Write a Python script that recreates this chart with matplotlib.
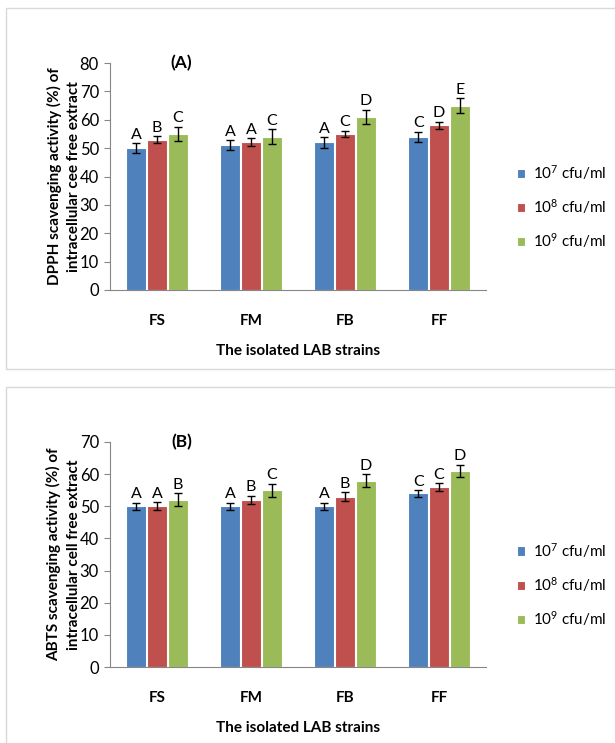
import numpy as np
import matplotlib
matplotlib.use('Agg')
import matplotlib.pyplot as plt
from matplotlib.patches import Rectangle

plt.rcParams['font.family'] = ['Lato', 'DejaVu Sans']
plt.rcParams['mathtext.fontset'] = 'custom'
plt.rcParams['mathtext.rm'] = 'Lato'
plt.rcParams['mathtext.default'] = 'regular'

strains = ['FS', 'FM', 'FB', 'FF']
doses = ['10$^{7}$ cfu/ml', '10$^{8}$ cfu/ml', '10$^{9}$ cfu/ml']
colors = ['#4F81BD', '#C0504D', '#9BBB59']

# (A) DPPH
dpph_7 = [50, 51, 52, 54]
dpph_8 = [53, 52, 55, 58]
dpph_9 = [55, 54, 61, 65]
dpph_err_7 = [1.8, 1.8, 1.8, 1.8]
dpph_err_8 = [1.3, 1.4, 1.2, 1.3]
dpph_err_9 = [2.6, 2.6, 2.5, 2.6]
dpph_let_7 = ['A', 'A', 'A', 'C']
dpph_let_8 = ['B', 'A', 'C', 'D']
dpph_let_9 = ['C', 'C', 'D', 'E']

# (B) ABTS
abts_7 = [50, 50, 50, 54]
abts_8 = [50, 52, 53, 56]
abts_9 = [52, 55, 58, 61]
abts_err_7 = [1.0, 1.0, 1.0, 1.0]
abts_err_8 = [1.3, 1.2, 1.3, 1.2]
abts_err_9 = [2.0, 2.0, 2.0, 1.9]
abts_let_7 = ['A', 'A', 'A', 'C']
abts_let_8 = ['A', 'B', 'B', 'C']
abts_let_9 = ['B', 'C', 'D', 'D']

W, H = 615, 743
fig = plt.figure(figsize=(W / 100, H / 100), dpi=100)


def px(x0, y0, x1, y1):
    # pixel box (top-left origin) -> figure fraction rect
    return [x0 / W, 1 - y1 / H, (x1 - x0) / W, (y1 - y0) / H]


def panel(box, ax_rect, vals, errs, lets, ymax, tag, ylab):
    r = px(*box)
    fig.patches.append(Rectangle((r[0], r[1]), r[2], r[3], transform=fig.transFigure,
                                 fill=False, edgecolor='#d9d9d9', lw=1))
    ax = fig.add_axes(px(*ax_rect))
    x = np.arange(len(strains))
    offs = [-0.22, 0, 0.22]
    for i in range(3):
        ax.bar(x + offs[i], vals[i], width=0.21, color=colors[i], edgecolor='white',
               linewidth=0.8, label=doses[i], zorder=2)
        ax.errorbar(x + offs[i], vals[i], yerr=errs[i], fmt='none', ecolor='black',
                    elinewidth=1, capsize=3, capthick=1, zorder=3)
        for j in range(len(strains)):
            ax.text(x[j] + offs[i], vals[i][j] + errs[i][j] + 0.5, lets[i][j],
                    ha='center', va='bottom', fontsize=11.5)
    ax.set_xlim(-0.5, 3.5)
    ax.set_ylim(0, ymax)
    ax.set_yticks(np.arange(0, ymax + 1, 10))
    ax.set_xticks(x)
    ax.set_xticklabels(strains, fontweight='bold', fontsize=11)
    ax.tick_params(axis='x', length=0, pad=17)
    ax.tick_params(axis='y', length=4, color='#868686', labelsize=12, pad=4)
    for s in ['top', 'right']:
        ax.spines[s].set_visible(False)
    for s in ['left', 'bottom']:
        ax.spines[s].set_color('#868686')
    ax.set_xlabel('The isolated LAB strains', fontweight='bold', fontsize=11, labelpad=12)
    ax.set_ylabel(ylab, fontweight='bold', fontsize=11, labelpad=-1, linespacing=1.5)
    ax.text(0.19, 1.0, tag, transform=ax.transAxes, ha='center', va='center',
            fontweight='bold', fontsize=12.5)
    ax.legend(loc='center left', bbox_to_anchor=(1.045, 0.367), frameon=False,
              fontsize=11, handlelength=0.55, handleheight=0.55, handletextpad=0.5,
              labelspacing=1.0)
    return ax


panel((6, 8, 640, 369), (110, 63, 486, 290),
      [dpph_7, dpph_8, dpph_9], [dpph_err_7, dpph_err_8, dpph_err_9],
      [dpph_let_7, dpph_let_8, dpph_let_9], 80, '(A)',
      'DPPH scavenging activity (%) of\nintracellular cee free extract')

panel((6, 387, 640, 760), (110, 442, 486, 667),
      [abts_7, abts_8, abts_9], [abts_err_7, abts_err_8, abts_err_9],
      [abts_let_7, abts_let_8, abts_let_9], 70, '(B)',
      'ABTS scavenging activity (%) of\nintracellular cell free extract')

fig.savefig('out.png', dpi=100)
